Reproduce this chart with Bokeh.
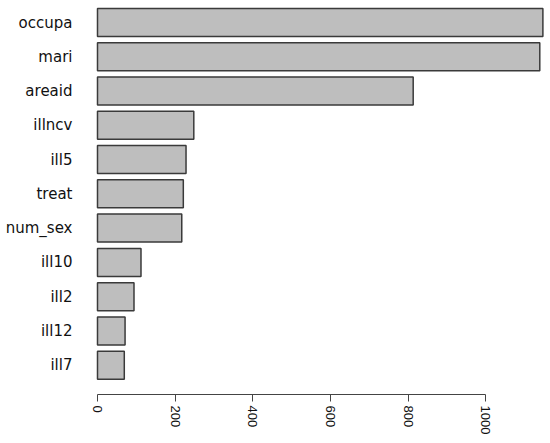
from bokeh.plotting import figure
from bokeh.models import Range1d, FixedTicker, ColumnDataSource
from bokeh.embed import file_html
from bokeh.resources import INLINE

variables = ["occupa", "mari", "areaid", "illncv", "ill5", "treat",
             "num_sex", "ill10", "ill2", "ill12", "ill7"]
importance = [1147, 1139, 813, 248, 228, 221, 217, 112, 94, 71, 69]
x_ticks = [0, 200, 400, 600, 800, 1000]

n = len(variables)
ypos = [n - 1 - i for i in range(n)]
src = ColumnDataSource(dict(y=ypos, right=importance, name=variables))

p = figure(width=550, height=443, output_backend="svg", toolbar_location=None,
           x_range=Range1d(-25.75, 1166.6), y_range=Range1d(-0.855, 10.642),
           min_border_left=87, min_border_right=0, min_border_top=0,
           min_border_bottom=49)
p.outline_line_color = None
p.grid.visible = False
p.background_fill_color = "white"

p.hbar(y="y", left=0, right="right", height=0.817, source=src,
       fill_color="#bebebe", line_color="#3a3a3a", line_width=1.5)

# x axis
xa = p.xaxis[0]
xa.ticker = FixedTicker(ticks=x_ticks)
xa.bounds = (0, 1000)
xa.major_label_orientation = "vertical"
xa.major_tick_out = 7
xa.major_tick_in = 0
xa.minor_tick_line_color = None
xa.major_label_standoff = 4
xa.axis_line_color = "#444444"
xa.major_tick_line_color = "#444444"
xa.major_label_text_font = "Liberation Sans"
xa.major_label_text_font_size = "13px"
xa.major_label_text_color = "#111111"

# y axis with variable names
ya = p.yaxis[0]
ya.ticker = FixedTicker(ticks=ypos)
ya.major_label_overrides = {y: nm for y, nm in zip(ypos, variables)}
ya.axis_line_color = None
ya.major_tick_line_color = None
ya.minor_tick_line_color = None
ya.major_tick_out = 0
ya.major_tick_in = 0
ya.major_label_standoff = 15
ya.major_label_text_font = "DejaVu Sans"
ya.major_label_text_font_size = "15px"
ya.major_label_text_color = "#111111"

open("out.html", "w").write(file_html(p, INLINE))
